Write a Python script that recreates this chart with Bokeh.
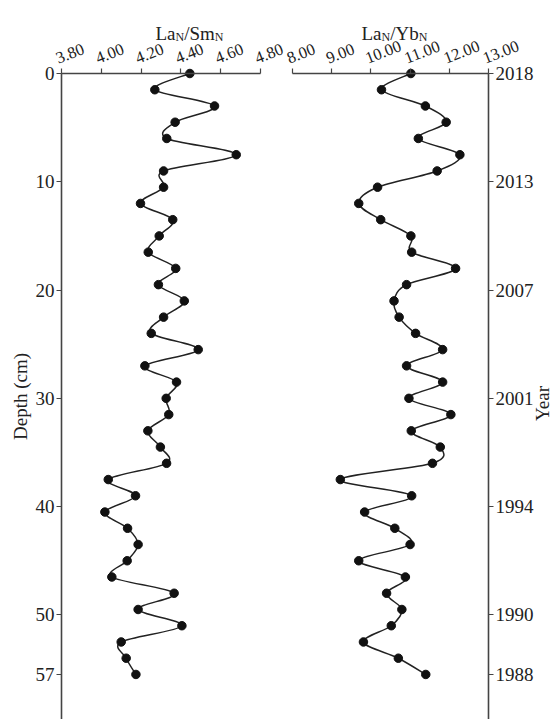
import math
from bokeh.plotting import figure
from bokeh.models import Range1d, FixedTicker, Label, LinearAxis
from bokeh.embed import file_html
from bokeh.resources import INLINE

# ---------------- data ----------------
depth = [0.0, 1.5, 3.0, 4.5, 6.0, 7.5, 9.0, 10.5, 12.0, 13.5, 15.0, 16.5, 18.0,
         19.5, 21.0, 22.5, 24.0, 25.5, 27.0, 28.5, 30.0, 31.5, 33.0, 34.5, 36.0,
         37.5, 39.0, 40.5, 42.0, 43.5, 45.0, 46.5, 48.0, 49.5, 51.0, 52.5, 54.0, 55.5]

la_sm = [4.445, 4.269, 4.569, 4.371, 4.329, 4.678, 4.313, 4.313, 4.197, 4.359,
         4.291, 4.236, 4.374, 4.287, 4.417, 4.313, 4.251, 4.487, 4.219, 4.378,
         4.326, 4.339, 4.234, 4.297, 4.328, 4.035, 4.172, 4.018, 4.132, 4.185,
         4.130, 4.053, 4.366, 4.185, 4.405, 4.100, 4.125, 4.174]

la_yb = [11.02, 10.27, 11.39, 11.92, 11.21, 12.27, 11.69, 10.17, 9.69, 10.25,
         11.02, 11.04, 12.16, 10.91, 10.59, 10.72, 11.14, 11.83, 10.91, 11.83,
         10.97, 12.04, 11.03, 11.77, 11.57, 9.22, 11.04, 9.84, 10.61, 11.00,
         9.69, 10.88, 10.40, 10.79, 10.52, 9.81, 10.70, 11.40]

depth_ticks = [0, 10, 20, 30, 40, 50, 55.5]
depth_labels = ["0", "10", "20", "30", "40", "50", "57"]
year_labels = ["2018", "2013", "2007", "2001", "1994", "1990", "1988"]
lasm_ticks = [3.8, 4.0, 4.2, 4.4, 4.6, 4.8]
lasm_labels = ["3.80", "4.00", "4.20", "4.40", "4.60", "4.80"]
layb_ticks = [8.0, 9.0, 10.0, 11.0, 12.0, 13.0]
layb_labels = ["8.00", "9.00", "10.00", "11.00", "12.00", "13.00"]

FONT = "Liberation Serif"
INK = "#222222"
AXC = "#444444"
W, H = 555, 719
TOP = 73            # pixel row of depth 0
PPU_Y = 10.828      # pixels per cm
Y_TOP = -TOP / PPU_Y
Y_BOTTOM = (H - TOP) / PPU_Y
LABEL_DX = -5       # px shift of rotated top labels
LABEL_DY = -8

# panel A (La/Sm) pixel frame, panel B (La/Yb) pixel frame
A_LO, A_HI, A_PX0, A_PX1 = 3.8, 4.8, 61, 260
B_LO, B_HI, B_PX0, B_PX1 = 8.0, 13.0, 292, 488
A_PPU = (A_PX1 - A_PX0) / (A_HI - A_LO)
B_PPU = (B_PX1 - B_PX0) / (B_HI - B_LO)


def smooth(xs, ys):
    n = len(xs)
    out = {k: [] for k in ("x0", "y0", "x1", "y1", "cx0", "cy0", "cx1", "cy1")}
    for i in range(n - 1):
        pm = max(i - 1, 0)
        pp = min(i + 2, n - 1)
        out["x0"].append(xs[i]); out["y0"].append(ys[i])
        out["x1"].append(xs[i + 1]); out["y1"].append(ys[i + 1])
        out["cx0"].append(xs[i] + (xs[i + 1] - xs[pm]) / 6.0)
        out["cy0"].append(ys[i] + (ys[i + 1] - ys[pm]) / 6.0)
        out["cx1"].append(xs[i + 1] - (xs[pp] - xs[i]) / 6.0)
        out["cy1"].append(ys[i + 1] - (ys[pp] - ys[i]) / 6.0)
    return out


def style_axis(ax):
    ax.axis_line_color = AXC
    ax.axis_line_width = 1.6
    ax.major_tick_line_color = AXC
    ax.major_tick_line_width = 1.2
    ax.major_tick_in = 0
    ax.major_tick_out = 5
    ax.minor_tick_line_color = None
    ax.major_label_text_font = FONT
    ax.major_label_text_font_size = "19px"
    ax.major_label_text_color = INK
    ax.major_label_standoff = 2
    ax.axis_label_text_font = FONT
    ax.axis_label_text_font_size = "19px"
    ax.axis_label_text_font_style = "normal"
    ax.axis_label_text_color = INK


p = figure(width=W, height=H,
           x_range=Range1d(A_LO - A_PX0 / A_PPU, A_LO + (W - A_PX0) / A_PPU),
           y_range=Range1d(Y_BOTTOM, Y_TOP),
           x_axis_type=None, y_axis_type=None,
           output_backend="svg", toolbar_location=None,
           min_border_left=0, min_border_right=0, min_border_top=0,
           min_border_bottom=0)
p.extra_x_ranges = {"yb": Range1d(B_LO - B_PX0 / B_PPU, B_LO + (W - B_PX0) / B_PPU)}
p.outline_line_color = None
p.grid.visible = False
p.background_fill_color = "white"
p.border_fill_color = "white"


def top_axes(ticks, labels, lo, hi, ppu, rname):
    xa = LinearAxis(fixed_location=0, bounds=(lo, hi), x_range_name=rname)
    style_axis(xa)
    xa.ticker = FixedTicker(ticks=ticks)
    xa.major_label_text_color = None
    p.add_layout(xa, "above")

    shifted = [t + LABEL_DX / ppu for t in ticks]
    xl = LinearAxis(fixed_location=LABEL_DY / PPU_Y, x_range_name=rname,
                    bounds=(shifted[0] - 1, shifted[-1] + 1))
    style_axis(xl)
    xl.axis_line_color = None
    xl.major_tick_line_color = None
    xl.major_label_text_font_size = "16.5px"
    xl.ticker = FixedTicker(ticks=shifted)
    xl.major_label_overrides = {t: l for t, l in zip(shifted, labels)}
    xl.major_label_orientation = 0.37
    p.add_layout(xl, "above")


top_axes(lasm_ticks, lasm_labels, A_LO, A_HI, A_PPU, "default")
top_axes(layb_ticks, layb_labels, B_LO, B_HI, B_PPU, "yb")

# depth axis (left)
ya = LinearAxis(fixed_location=A_LO, bounds=(0, Y_BOTTOM))
style_axis(ya)
ya.ticker = FixedTicker(ticks=depth_ticks)
ya.major_label_overrides = {t: l for t, l in zip(depth_ticks, depth_labels)}
ya.axis_label = "Depth (cm)"
ya.axis_label_standoff = 2
p.add_layout(ya, "left")

# year axis (right)
yr = LinearAxis(fixed_location=B_HI, x_range_name="yb", bounds=(0, Y_BOTTOM))
style_axis(yr)
yr.ticker = FixedTicker(ticks=depth_ticks)
yr.major_label_overrides = {t: l for t, l in zip(depth_ticks, year_labels)}
p.add_layout(yr, "right")

# profiles
for vals, rname in ((la_sm, "default"), (la_yb, "yb")):
    src = smooth(vals, depth)
    p.bezier(x0="x0", y0="y0", x1="x1", y1="y1", cx0="cx0", cy0="cy0",
             cx1="cx1", cy1="cy1", source=src, line_color=INK, line_width=1.5,
             x_range_name=rname)
    p.scatter(vals, depth, size=8.5, color="#111111", x_range_name=rname)


def px2x(px):
    return p.x_range.start + px / A_PPU


def py2y(py):
    return (py - TOP) / PPU_Y


titles = [("La", 155, 33, "19px"), ("N", 175, 36.5, "12px"),
          ("/Sm", 183.7, 33, "19px"), ("N", 214.3, 36.5, "12px"),
          ("La", 361, 33, "19px"), ("N", 381, 36.5, "12px"),
          ("/Yb", 389.7, 33, "19px"), ("N", 418.2, 36.5, "12px")]
for text, px, py, fs in titles:
    p.add_layout(Label(x=px2x(px), y=py2y(py), text=text, text_font=FONT,
                       text_font_size=fs, text_color=INK,
                       text_align="left", text_baseline="alphabetic"))

p.add_layout(Label(x=px2x(542), y=py2y(403), text="Year", text_font=FONT,
                   text_font_size="19px", text_color=INK, angle=math.pi / 2,
                   text_align="center", text_baseline="middle"))

open("out.html", "w").write(file_html(p, INLINE))
